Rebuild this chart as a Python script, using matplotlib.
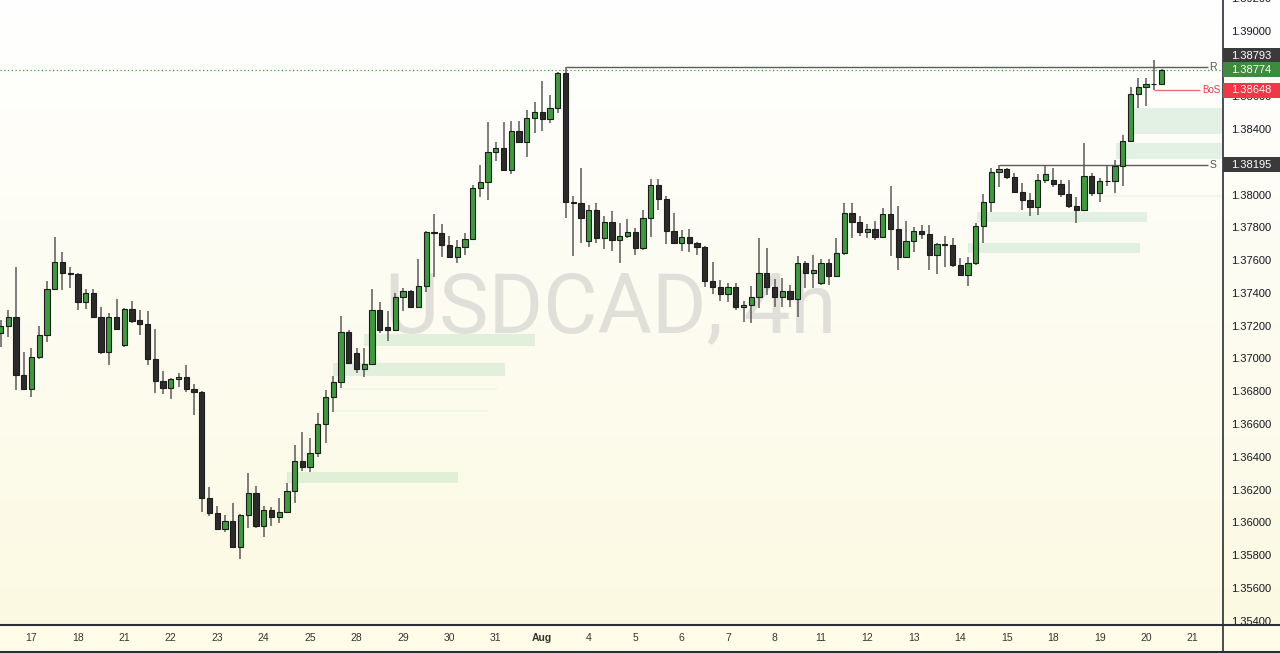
import numpy as np
import matplotlib
matplotlib.use("Agg")
import matplotlib.pyplot as plt
from matplotlib.patches import Rectangle
from matplotlib.lines import Line2D
from matplotlib.transforms import Bbox, TransformedBbox, ScaledTranslation

plt.rcParams['font.family'] = ['Liberation Sans', 'DejaVu Sans']

# ---------------- data (USDCAD 4h candles) ----------------
open_ = [1.37167, 1.37209, 1.37264, 1.36911, 1.36825, 1.37020, 1.37155, 1.37435, 1.37600, 1.37533,
         1.37527, 1.37356, 1.37411, 1.37264, 1.37051, 1.37264, 1.37094, 1.37313, 1.37246, 1.37222,
         1.37008, 1.36874, 1.36831, 1.36886, 1.36898, 1.36825, 1.36807, 1.36160, 1.36069, 1.35971,
         1.36020, 1.35861, 1.36057, 1.36191, 1.35989, 1.36087, 1.36044, 1.36075, 1.36203, 1.36386,
         1.36349, 1.36435, 1.36612, 1.36776, 1.36868, 1.37173, 1.37045, 1.36947, 1.36978, 1.37307,
         1.37203, 1.37185, 1.37386, 1.37423, 1.37325, 1.37453, 1.37783, 1.37777, 1.37704, 1.37630,
         1.37691, 1.37740, 1.38051, 1.38088, 1.38271, 1.38295, 1.38161, 1.38399, 1.38332, 1.38478,
         1.38515, 1.38472, 1.38539, 1.38753, 1.37966, 1.37960, 1.37728, 1.37917, 1.37746, 1.37844,
         1.37734, 1.37758, 1.37783, 1.37685, 1.37868, 1.38070, 1.37984, 1.37789, 1.37716, 1.37752,
         1.37716, 1.37691, 1.37484, 1.37447, 1.37405, 1.37447, 1.37325, 1.37338, 1.37386, 1.37533,
         1.37447, 1.37386, 1.37423, 1.37374, 1.37594, 1.37533, 1.37472, 1.37594, 1.37514, 1.37655,
         1.37899, 1.37844, 1.37783, 1.37801, 1.37752, 1.37893, 1.37801, 1.37630, 1.37728, 1.37789,
         1.37771, 1.37643, 1.37710, 1.37705, 1.37582, 1.37521, 1.37594, 1.37819, 1.37966, 1.38149,
         1.38167, 1.38118, 1.38027, 1.37978, 1.37935, 1.38100, 1.38100, 1.38076, 1.38015, 1.37941,
         1.37917, 1.38124, 1.38021, 1.38094, 1.38097, 1.38185, 1.38338, 1.38625, 1.38667, 1.38690,
         1.38686]
high = [1.37246, 1.37307, 1.37569, 1.37051, 1.37075, 1.37209, 1.37484, 1.37752, 1.37661, 1.37569,
        1.37535, 1.37435, 1.37435, 1.37325, 1.37289, 1.37374, 1.37319, 1.37362, 1.37307, 1.37301,
        1.37191, 1.36935, 1.36890, 1.36923, 1.36972, 1.36856, 1.36815, 1.36227, 1.36111, 1.36057,
        1.36130, 1.36060, 1.36313, 1.36233, 1.36111, 1.36105, 1.36160, 1.36252, 1.36484, 1.36563,
        1.36526, 1.36679, 1.36819, 1.36904, 1.37270, 1.37185, 1.37075, 1.37075, 1.37435, 1.37356,
        1.37301, 1.37411, 1.37441, 1.37430, 1.37618, 1.37790, 1.37893, 1.37832, 1.37758, 1.37734,
        1.37777, 1.38070, 1.38192, 1.38454, 1.38332, 1.38454, 1.38460, 1.38460, 1.38527, 1.38576,
        1.38704, 1.38619, 1.38760, 1.38793, 1.38002, 1.38173, 1.37948, 1.37960, 1.37880, 1.37911,
        1.37838, 1.37862, 1.37807, 1.37917, 1.38106, 1.38106, 1.38002, 1.37899, 1.37795, 1.37801,
        1.37722, 1.37697, 1.37600, 1.37490, 1.37472, 1.37472, 1.37362, 1.37453, 1.37746, 1.37685,
        1.37496, 1.37502, 1.37460, 1.37636, 1.37606, 1.37643, 1.37618, 1.37618, 1.37746, 1.37960,
        1.37960, 1.37880, 1.37832, 1.37850, 1.37929, 1.38063, 1.37941, 1.37850, 1.37813, 1.37826,
        1.37826, 1.37716, 1.37758, 1.37746, 1.37624, 1.37630, 1.37838, 1.38015, 1.38173, 1.38195,
        1.38175, 1.38143, 1.38082, 1.38021, 1.38137, 1.38190, 1.38173, 1.38100, 1.38100, 1.37996,
        1.38326, 1.38143, 1.38112, 1.38185, 1.38222, 1.38375, 1.38667, 1.38722, 1.38722, 1.38832,
        1.38780]
low = [1.37081, 1.37142, 1.36819, 1.36820, 1.36776, 1.37008, 1.37112, 1.37430, 1.37429, 1.37441,
       1.37307, 1.37313, 1.37258, 1.37039, 1.36972, 1.37185, 1.37081, 1.37228, 1.37155, 1.36972,
       1.36801, 1.36795, 1.36764, 1.36837, 1.36807, 1.36667, 1.36075, 1.36050, 1.35965, 1.35953,
       1.35855, 1.35788, 1.35977, 1.35977, 1.35922, 1.35989, 1.36008, 1.36070, 1.36130, 1.36325,
       1.36319, 1.36410, 1.36496, 1.36685, 1.36831, 1.36980, 1.36923, 1.36898, 1.36972, 1.37167,
       1.37118, 1.37180, 1.37301, 1.37320, 1.37320, 1.37417, 1.37508, 1.37630, 1.37625, 1.37594,
       1.37643, 1.37734, 1.37996, 1.37978, 1.38216, 1.38155, 1.38137, 1.38325, 1.38240, 1.38387,
       1.38399, 1.38448, 1.38509, 1.37868, 1.37636, 1.37716, 1.37691, 1.37716, 1.37679, 1.37667,
       1.37594, 1.37746, 1.37643, 1.37673, 1.37752, 1.37917, 1.37710, 1.37710, 1.37667, 1.37661,
       1.37643, 1.37447, 1.37405, 1.37362, 1.37356, 1.37307, 1.37234, 1.37228, 1.37319, 1.37399,
       1.37325, 1.37325, 1.37325, 1.37264, 1.37441, 1.37441, 1.37460, 1.37460, 1.37508, 1.37643,
       1.37746, 1.37758, 1.37746, 1.37734, 1.37746, 1.37636, 1.37551, 1.37625, 1.37661, 1.37740,
       1.37551, 1.37527, 1.37569, 1.37569, 1.37514, 1.37453, 1.37582, 1.37716, 1.37905, 1.38057,
       1.38106, 1.38021, 1.37917, 1.37880, 1.37887, 1.38082, 1.38057, 1.37996, 1.37929, 1.37838,
       1.37911, 1.38002, 1.37966, 1.38063, 1.38021, 1.38063, 1.38332, 1.38539, 1.38551, 1.38648,
       1.38680]
close_ = [1.37209, 1.37264, 1.36911, 1.36825, 1.37020, 1.37155, 1.37435, 1.37600, 1.37533, 1.37527,
          1.37356, 1.37411, 1.37264, 1.37051, 1.37264, 1.37191, 1.37313, 1.37240, 1.37222, 1.37008,
          1.36874, 1.36831, 1.36886, 1.36898, 1.36825, 1.36807, 1.36160, 1.36069, 1.35971, 1.36020,
          1.35861, 1.36057, 1.36191, 1.35989, 1.36087, 1.36044, 1.36075, 1.36203, 1.36386, 1.36349,
          1.36435, 1.36612, 1.36776, 1.36868, 1.37173, 1.36984, 1.36947, 1.36978, 1.37307, 1.37185,
          1.37185, 1.37386, 1.37423, 1.37325, 1.37453, 1.37783, 1.37777, 1.37704, 1.37630, 1.37691,
          1.37740, 1.38051, 1.38088, 1.38271, 1.38295, 1.38161, 1.38399, 1.38332, 1.38478, 1.38515,
          1.38472, 1.38539, 1.38753, 1.37966, 1.37960, 1.37868, 1.37917, 1.37746, 1.37844, 1.37734,
          1.37758, 1.37783, 1.37685, 1.37868, 1.38070, 1.37984, 1.37789, 1.37716, 1.37752, 1.37716,
          1.37691, 1.37484, 1.37447, 1.37405, 1.37447, 1.37325, 1.37338, 1.37386, 1.37533, 1.37447,
          1.37386, 1.37423, 1.37374, 1.37594, 1.37533, 1.37551, 1.37594, 1.37514, 1.37655, 1.37899,
          1.37844, 1.37783, 1.37801, 1.37752, 1.37893, 1.37801, 1.37630, 1.37728, 1.37789, 1.37771,
          1.37643, 1.37710, 1.37705, 1.37582, 1.37521, 1.37594, 1.37819, 1.37966, 1.38149, 1.38167,
          1.38118, 1.38027, 1.37978, 1.37935, 1.38100, 1.38137, 1.38076, 1.38015, 1.37941, 1.37917,
          1.38124, 1.38021, 1.38094, 1.38097, 1.38185, 1.38338, 1.38625, 1.38667, 1.38686, 1.38686,
          1.38774]

day_labels = ['17', '18', '21', '22', '23', '24', '25', '28', '29', '30', '31', 'Aug',
              '4', '5', '6', '7', '8', '11', '12', '13', '14', '15', '18', '19', '20', '21']
first_day_candle = 4          # index of first candle of the first labelled day
candles_per_day = 6

# supply/demand zones: start index, end index (None = to right edge), low, high, faint
zone_start = [37.0, 43.0, 47.0, 43.9, 43.0, 125.0, 126.2, 142.4, 144.1, 146.3]
zone_end   = [59.1, 65.2, 69.1, 64.2, 63.0, 147.2, 148.1, None, None, None]
zone_low   = [1.36252, 1.36904, 1.37087, 1.36819, 1.36685, 1.37655, 1.37844, 1.37996, 1.38228, 1.38381]
zone_high  = [1.36319, 1.36984, 1.37161, 1.36831, 1.36697, 1.37716, 1.37905, 1.38008, 1.38326, 1.38539]
zone_faint = [False, False, False, True, True, False, False, True, False, False]

resistance = 1.38793
support = 1.38195
bos_level = 1.38648
last_price = 1.38774
R_index, S_index, BoS_index = 73, 129, 149

open_ = np.array(open_); high = np.array(high); low = np.array(low); close_ = np.array(close_)

# ---------------- figure ----------------
W, H = 1280, 653
fig = plt.figure(figsize=(W / 100, H / 100), dpi=100)

bg = fig.add_axes([0, 0, 1, 1], zorder=-5)
bg.axis('off')
t = np.linspace(0, 1, 256)[:, None]
c_top = np.array([255, 255, 255]) / 255
c_bot = np.array([252, 249, 225]) / 255
grad = c_top * (1 - t) + c_bot * t
bg.imshow(grad[:, None, :], aspect='auto', extent=[0, 1, 0, 1], origin='upper')

PR, PB = 1222, 625          # plot right edge / bottom edge in pixels
ax = fig.add_axes([0, (H - PB) / H, PR / W, PB / H])
ax.patch.set_alpha(0)

step = 7.74
ax.set_xlim((0 - 0.5) / step, (PR - 0.5) / step)
ax.set_ylim(1.39198 - 0.000061 * PB, 1.39198)

idx = np.arange(len(close_))
up = close_ >= open_

# zones
x_right = ax.get_xlim()[1]
for xs, xe, lo, hi, faint in zip(zone_start, zone_end, zone_low, zone_high, zone_faint):
    xe = x_right if xe is None else xe
    ax.add_patch(Rectangle((xs, lo), xe - xs, hi - lo, facecolor='#26a65b',
                           alpha=0.06 if faint else 0.13, edgecolor='none', zorder=1))

# watermark
ax.text(0.5, 0.506, 'USDCAD, 4h', transform=ax.transAxes, ha='center', va='center',
        fontsize=60, color='#e0dfd9', family=['Roboto', 'DejaVu Sans'], fontweight='normal', zorder=0.5)

# current price line
ax.axhline(last_price, color='#43a047', ls=(0, (1, 2)), lw=0.9, zorder=1.5)

# candles
ax.vlines(idx, low, high, color='#5a5a5a', lw=1.1, zorder=2)
body_bot = np.minimum(open_, close_)
body_h = np.maximum(np.abs(close_ - open_), 0.00001)
ax.bar(idx, body_h, bottom=body_bot, width=0.68,
       color=np.where(up, '#3d9a3d', '#2b2b2b'), edgecolor='#1c1c1c', linewidth=0.8, zorder=3)

# R / S / BoS
line_end = (1207.5) / step
ax.hlines(resistance, R_index, line_end, color='#5b5b5b', lw=1, zorder=2.5)
ax.hlines(support, S_index, line_end, color='#5b5b5b', lw=1, zorder=2.5)
ax.text((1212.5) / step, resistance, 'R', ha='center', va='center', fontsize=7.5, color='#555555')
ax.text((1212.5) / step, support, 'S', ha='center', va='center', fontsize=7.5, color='#555555')
ax.hlines(bos_level, BoS_index, (1199.5) / step, color='#f36b75', lw=1, zorder=2.5)
ax.text((1201.5) / step, bos_level, 'BoS', ha='left', va='center', fontsize=7, color='#f23645')

# axes ticks (1.38800 sits fully under the price boxes, as in the reference)
for s in ax.spines.values():
    s.set_visible(False)
ax.yaxis.tick_right()
yt = np.round(np.arange(1.354, 1.3921, 0.002), 3)
ax.set_yticks(yt)
ax.set_yticklabels(['' if abs(v - 1.388) < 1e-9 else f'{v:.5f}' for v in yt])
ax.tick_params(axis='y', length=0, pad=6.5, labelsize=8, labelcolor='#131722')
xt = [first_day_candle + candles_per_day * k for k in range(len(day_labels))]
ax.set_xticks(xt)
ax.set_xticklabels(day_labels)
ax.tick_params(axis='x', length=0, pad=5.5, labelsize=7.5, labelcolor='#333333')
for lbl in ax.get_xticklabels():
    if lbl.get_text() == 'Aug':
        lbl.set_fontweight('bold')
clip = TransformedBbox(Bbox([[PR / W, (H - PB) / H], [1, 1]]), fig.transFigure)
lift = ScaledTranslation(0, 2 / 100, fig.dpi_scale_trans)
for lbl in ax.get_yticklabels():
    lbl.set_transform(lbl.get_transform() + lift)
    lbl.set_clip_box(clip)
    lbl.set_clip_on(True)

# bottom band and frame
fig.add_artist(Rectangle((0, 0), 1, (H - PB) / H, transform=fig.transFigure,
                         facecolor='#fffde7', edgecolor='none', zorder=-1))
fig.add_artist(Line2D([0, 1], [(H - PB) / H] * 2, transform=fig.transFigure, color='#2a2e39', lw=1.5, zorder=10))
fig.add_artist(Line2D([0, 1], [0.8 / H] * 2, transform=fig.transFigure, color='#2a2e39', lw=1.5, zorder=10))
fig.add_artist(Line2D([(PR + 0.5) / W] * 2, [0, 1], transform=fig.transFigure, color='#2a2e39', lw=1.2, zorder=10))

# price labels on the right scale
def price_box(price, color, shift_px=0.0):
    yd = ax.transData.transform((0, price))[1] + shift_px
    fig.add_artist(Rectangle(((PR + 1) / W, (yd - 7.5) / H), (W - PR - 1) / W, 15 / H,
                             transform=fig.transFigure, facecolor=color, edgecolor='none', zorder=11))
    fig.text((PR + 9) / W, yd / H, f'{price:.5f}', color='white', fontsize=8,
             ha='left', va='center', zorder=12)

price_box(resistance, '#3a3a3a', 11)
price_box(last_price, '#3c8c3c', 0)
price_box(bos_level, '#f23645', 0)
price_box(support, '#3a3a3a', 0)

fig.savefig('out.png', dpi=100)
